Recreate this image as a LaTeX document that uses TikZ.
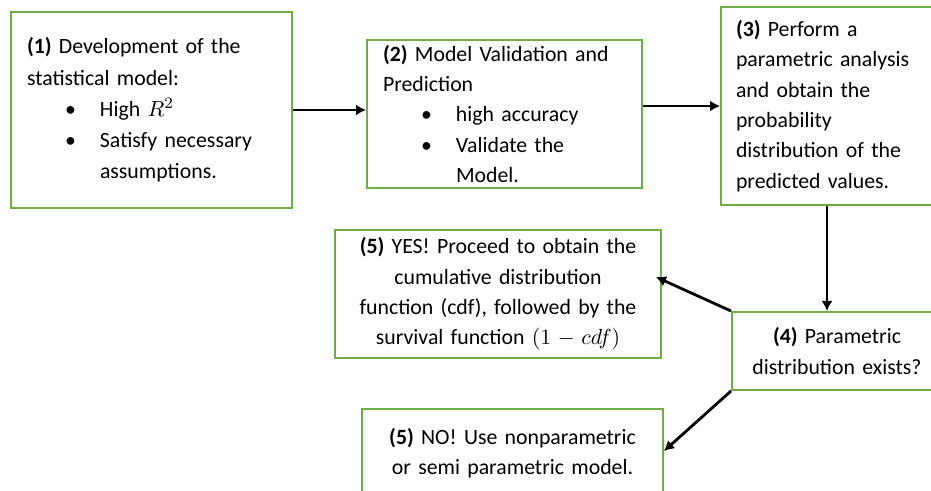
\documentclass[tikz,border=0pt]{standalone}
\usepackage{fontspec}
\setmainfont{Carlito}
\usetikzlibrary{arrows.meta}
\definecolor{boxgreen}{RGB}{112,173,71}
\tikzset{
  stepbox/.style={draw=boxgreen,line width=1pt,rectangle,inner ysep=0pt,inner xsep=8pt,font=\fontsize{10.9pt}{15.2pt}\selectfont},
  leftbox/.style={stepbox,align=left},
  midbox/.style={stepbox,align=center},
  flow/.style={-{Latex[length=5pt,width=5.5pt]},line width=1.4pt},
}
\newcommand{\bitem}[1]{\hspace*{19pt}\makebox[17.5pt][l]{\textbullet}#1}
\newcommand{\bcont}[1]{\hspace*{36.5pt}#1}

\begin{document}
\begin{tikzpicture}[x=0.5pt,y=-0.5pt]
  \useasboundingbox (0,0) rectangle (931,491);
  \clip (0,0) rectangle (931,491);
  % boxes of the flow
  \node[leftbox,text width=124.5pt,minimum height=98pt,font=\fontsize{10.9pt}{15.6pt}\selectfont] (model) at (151.5,110)
    {\textbf{(1)} Development of the\\ statistical model:\\ \bitem{High $R^2$}\\ \bitem{Satisfy necessary}\\ \bcont{assumptions.}};
  \node[leftbox,text width=121.5pt,minimum height=74pt] (valid) at (504.5,114)
    {\textbf{(2)} Model Validation and\\ Prediction\\ \bitem{high accuracy}\\ \bitem{Validate the}\\ \bcont{Model.}};
  \node[leftbox,inner xsep=7.5pt,text width=94.5pt,minimum height=99pt] (param) at (830.5,106)
    {\textbf{(3)} Perform a\\ parametric analysis\\ and obtain the\\ probability\\ distribution of the\\ predicted values.};
  \node[midbox,inner xsep=4pt,text width=97pt,minimum height=39pt] (exists) at (837,351)
    {\textbf{(4)} Parametric\\ distribution exists?};
  \node[midbox,inner xsep=6pt,text width=151pt,minimum height=64pt] (yes) at (498,294)
    {\textbf{(5)} YES! Proceed to obtain the\\ cumulative distribution\\ function (cdf), followed by the\\ survival function $(1-cdf)$};
  \node[midbox,text width=134.5pt,minimum height=44pt] (no) at (512.5,453)
    {\textbf{(5)} NO! Use nonparametric\\ or semi parametric model.};
  % arrows
  \draw[flow] (model.east) -- (model.east -| valid.west);
  \draw[flow] (valid.east |- param.west) -- (param.west);
  \draw[flow] ([xshift=-1.75pt]param.south) -- ([xshift=-1.75pt]param.south |- exists.north);
  \draw[flow] (exists.north west) -- ([shift={(-3pt,8.5pt)}]yes.east);
  \draw[flow] (exists.south west) -- ([yshift=1pt]no.east);
\end{tikzpicture}
\end{document}
